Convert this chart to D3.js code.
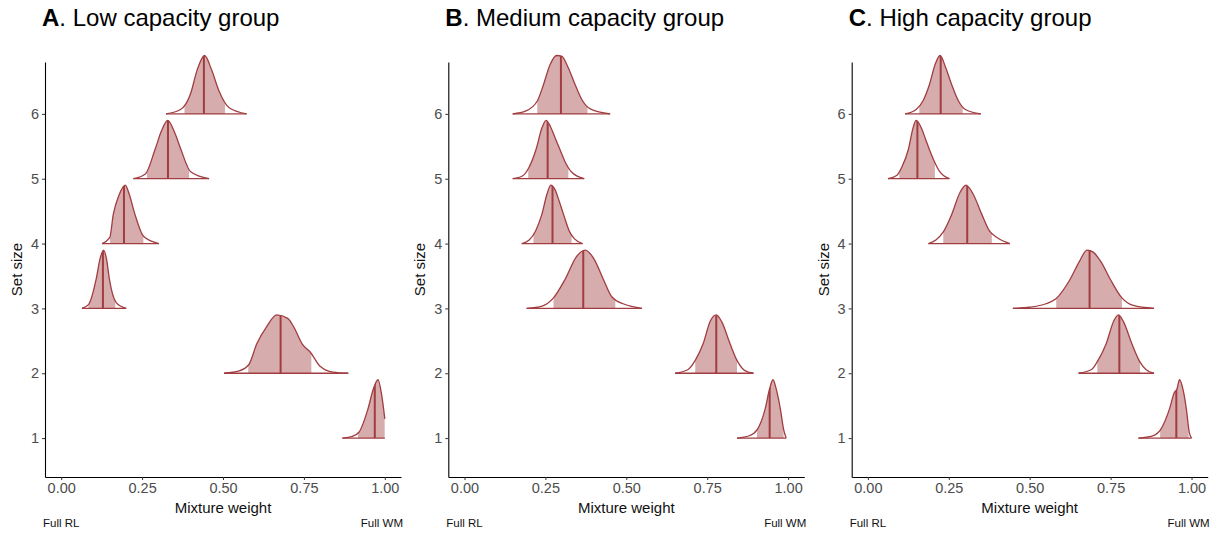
<!DOCTYPE html>
<html>
<head>
<meta charset="utf-8">
<script src="https://cdn.jsdelivr.net/npm/d3@7"></script>
<style>
  body { margin: 0; background: #fff; }
  text { font-family: "Liberation Sans", Arial, sans-serif; }
</style>
</head>
<body>
<div id="chart"></div>
<script>
// Set sizes (y categories) and tick labels
const setSizes = [1, 2, 3, 4, 5, 6];
const xTicks = [0, 0.25, 0.5, 0.75, 1];
const panelLetters = ["A", "B", "C"];
const panelTitles = [". Low capacity group", ". Medium capacity group", ". High capacity group"];

// Density outlines: [mixture weight, relative height], one list per set size 1..6
const lowCurves = [
    [[0.869,0],[0.90,0.03],[0.92,0.1],[0.948,0.5],[0.965,0.85],[0.979,1],[0.99,0.75],[1.0,0.33]],
    [[0.503,0],[0.55,0.04],[0.58,0.15],[0.604,0.5],[0.635,0.8],[0.666,1],[0.70,0.94],[0.72,0.78],[0.745,0.5],[0.77,0.36],[0.80,0.12],[0.84,0.02],[0.887,0]],
    [[0.064,0],[0.085,0.07],[0.108,0.5],[0.12,0.85],[0.131,1],[0.14,0.85],[0.149,0.5],[0.17,0.1],[0.201,0]],
    [[0.126,0],[0.15,0.1],[0.161,0.5],[0.178,0.82],[0.198,1],[0.21,0.85],[0.228,0.5],[0.255,0.12],[0.302,0]],
    [[0.223,0],[0.26,0.08],[0.29,0.5],[0.31,0.82],[0.329,1],[0.35,0.8],[0.37,0.5],[0.40,0.12],[0.457,0]],
    [[0.324,0],[0.37,0.08],[0.40,0.35],[0.42,0.75],[0.443,1],[0.465,0.75],[0.487,0.4],[0.52,0.1],[0.573,0]]
];
const lowMedians = [0.969, 0.678, 0.129, 0.194, 0.330, 0.441];
const lowLo = [0.917, 0.578, 0.084, 0.151, 0.265, 0.381];
const lowHi = [1.0, 0.773, 0.167, 0.254, 0.395, 0.506];

const medCurves = [
    [[0.842,0],[0.88,0.04],[0.905,0.15],[0.929,0.5],[0.943,0.85],[0.953,1],[0.965,0.8],[0.976,0.5],[0.986,0.15],[0.994,0]],
    [[0.651,0],[0.69,0.06],[0.713,0.22],[0.737,0.5],[0.76,0.9],[0.778,1],[0.795,0.88],[0.821,0.5],[0.842,0.22],[0.865,0.05],[0.893,0]],
    [[0.192,0],[0.24,0.04],[0.275,0.18],[0.311,0.5],[0.345,0.88],[0.373,1],[0.40,0.85],[0.429,0.5],[0.455,0.2],[0.49,0.08],[0.52,0.03],[0.548,0]],
    [[0.177,0],[0.20,0.06],[0.22,0.22],[0.239,0.5],[0.255,0.85],[0.267,1],[0.28,0.92],[0.293,0.72],[0.306,0.5],[0.325,0.2],[0.34,0.08],[0.365,0]],
    [[0.149,0],[0.18,0.05],[0.20,0.2],[0.221,0.5],[0.24,0.88],[0.252,1],[0.265,0.9],[0.28,0.7],[0.295,0.5],[0.31,0.3],[0.33,0.12],[0.37,0]],
    [[0.149,0],[0.19,0.05],[0.225,0.22],[0.244,0.5],[0.265,0.85],[0.285,1],[0.30,0.99],[0.32,0.8],[0.342,0.5],[0.362,0.25],[0.39,0.08],[0.45,0]]
];
const medMedians = [0.943, 0.778, 0.367, 0.272, 0.257, 0.298];
const medLo = [0.904, 0.713, 0.275, 0.213, 0.197, 0.225];
const medHi = [0.986, 0.842, 0.466, 0.331, 0.321, 0.380];

const highCurves = [
    [[0.836,0],[0.88,0.04],[0.905,0.15],[0.932,0.5],[0.947,0.78],[0.955,0.84],[0.963,1],[0.975,0.8],[0.984,0.5],[0.993,0.1],[1.0,0]],
    [[0.651,0],[0.69,0.06],[0.709,0.2],[0.736,0.5],[0.76,0.9],[0.774,1],[0.79,0.88],[0.816,0.5],[0.84,0.2],[0.86,0.06],[0.884,0]],
    [[0.448,0],[0.50,0.02],[0.55,0.08],[0.58,0.16],[0.625,0.5],[0.655,0.82],[0.677,1],[0.697,0.96],[0.72,0.8],[0.749,0.5],[0.785,0.18],[0.82,0.05],[0.884,0]],
    [[0.187,0],[0.21,0.06],[0.233,0.2],[0.259,0.5],[0.285,0.88],[0.303,1],[0.325,0.85],[0.352,0.5],[0.375,0.22],[0.40,0.1],[0.439,0]],
    [[0.062,0],[0.09,0.06],[0.105,0.2],[0.125,0.5],[0.14,0.88],[0.149,1],[0.166,0.86],[0.178,0.68],[0.19,0.5],[0.205,0.3],[0.222,0.12],[0.252,0]],
    [[0.115,0],[0.15,0.08],[0.17,0.22],[0.19,0.5],[0.208,0.85],[0.223,1],[0.24,0.8],[0.259,0.5],[0.28,0.22],[0.30,0.08],[0.349,0]]
];
const highMedians = [0.953, 0.777, 0.685, 0.307, 0.153, 0.225];
const highLo = [0.903, 0.709, 0.582, 0.233, 0.097, 0.159];
const highHi = [0.991, 0.841, 0.785, 0.383, 0.207, 0.293];

const panels = [
    { curves: lowCurves, medians: lowMedians, lo: lowLo, hi: lowHi },
    { curves: medCurves, medians: medMedians, lo: medLo, hi: medHi },
    { curves: highCurves, medians: highMedians, lo: highLo, hi: highHi }
];

const W = 1230, H = 537;
const plotW = 356, plotTop = 62, plotBottom = 477;
const panelLeft = [45, 448.3, 851.7];
const ridgeScale = 0.9;
const lineColor = "#a13d40", fillColor = "#d6acad";

const svg = d3.select("#chart").append("svg")
    .attr("width", W)
    .attr("height", H);

const defs = svg.append("defs");

const x = d3.scaleLinear().domain([-0.05, 1.05]).range([0, plotW]);
const y = d3.scaleLinear().domain([0.4, 6.8]).range([plotBottom, plotTop]);

panels.forEach((p, pi) => {
    const g = svg.append("g")
        .attr("transform", `translate(${panelLeft[pi]},0)`);

    // Title
    const title = g.append("text")
        .attr("x", -3)
        .attr("y", 26)
        .attr("font-size", 24)
        .attr("fill", "#000");
    title.append("tspan").attr("font-weight", "bold").text(panelLetters[pi]);
    title.append("tspan").text(panelTitles[pi]);

    // Ridges
    p.curves.forEach((pts, i) => {
        const s = setSizes[i];
        const area = d3.area()
            .x(d => x(d[0]))
            .y0(y(s))
            .y1(d => y(s + d[1] * ridgeScale))
            .curve(d3.curveMonotoneX);
        const line = d3.line()
            .x(d => x(d[0]))
            .y(d => y(s + d[1] * ridgeScale))
            .curve(d3.curveMonotoneX);

        // clip paths are in the panel's own coordinates
        const clipIdArea = `area-${pi}-${i}`;
        const clipIdBand = `band-${pi}-${i}`;
        defs.append("clipPath").attr("id", clipIdArea)
            .append("path").attr("d", area(pts));
        defs.append("clipPath").attr("id", clipIdBand)
            .append("rect")
            .attr("x", x(p.lo[i]))
            .attr("y", y(s + 1))
            .attr("width", x(p.hi[i]) - x(p.lo[i]))
            .attr("height", y(s) - y(s + 1) + 1);

        // white body, shaded interval
        g.append("path")
            .attr("d", area(pts))
            .attr("fill", "#fff");
        g.append("path")
            .attr("d", area(pts))
            .attr("fill", fillColor)
            .attr("clip-path", `url(#${clipIdBand})`);

        // median line
        g.append("line")
            .attr("x1", x(p.medians[i]))
            .attr("x2", x(p.medians[i]))
            .attr("y1", y(s))
            .attr("y2", y(s + 1))
            .attr("stroke", lineColor)
            .attr("stroke-width", 2)
            .attr("clip-path", `url(#${clipIdArea})`);

        // baseline
        g.append("line")
            .attr("x1", x(pts[0][0]))
            .attr("x2", x(pts[pts.length - 1][0]))
            .attr("y1", y(s))
            .attr("y2", y(s))
            .attr("stroke", lineColor)
            .attr("stroke-width", 1.3);

        // outline
        g.append("path")
            .attr("d", line(pts))
            .attr("fill", "none")
            .attr("stroke", lineColor)
            .attr("stroke-width", 1.3);
    });

    // Axes
    const yAxis = g.append("g")
        .call(d3.axisLeft(y).tickValues(setSizes).tickFormat(d3.format("d")).tickSize(3).tickSizeOuter(0));
    const xAxis = g.append("g")
        .attr("transform", `translate(0,${plotBottom})`)
        .call(d3.axisBottom(x).tickValues(xTicks).tickFormat(d3.format(".2f")).tickSize(3).tickSizeOuter(0));

    [yAxis, xAxis].forEach(ax => {
        ax.select(".domain").attr("stroke", "#000").attr("stroke-width", 1.1);
        ax.selectAll(".tick line").attr("stroke", "#333");
        ax.selectAll(".tick text")
            .attr("fill", "#4d4d4d")
            .attr("font-size", 14.5)
            .style("font-family", "'Liberation Sans', Arial, sans-serif");
    });
    yAxis.selectAll(".tick text").attr("x", -6);
    xAxis.selectAll(".tick text").attr("y", 6);

    // Axis titles
    g.append("text")
        .attr("transform", "rotate(-90)")
        .attr("x", -(plotTop + plotBottom) / 2)
        .attr("y", -23)
        .attr("text-anchor", "middle")
        .attr("font-size", 15)
        .attr("fill", "#111")
        .text("Set size");

    g.append("text")
        .attr("x", x(0.5))
        .attr("y", 513)
        .attr("text-anchor", "middle")
        .attr("font-size", 15)
        .attr("fill", "#111")
        .text("Mixture weight");

    g.append("text")
        .attr("x", -2)
        .attr("y", 527)
        .attr("font-size", 11.5)
        .attr("fill", "#111")
        .text("Full RL");

    g.append("text")
        .attr("x", plotW + 2)
        .attr("y", 527)
        .attr("text-anchor", "end")
        .attr("font-size", 11.5)
        .attr("fill", "#111")
        .text("Full WM");
});
</script>
</body>
</html>
